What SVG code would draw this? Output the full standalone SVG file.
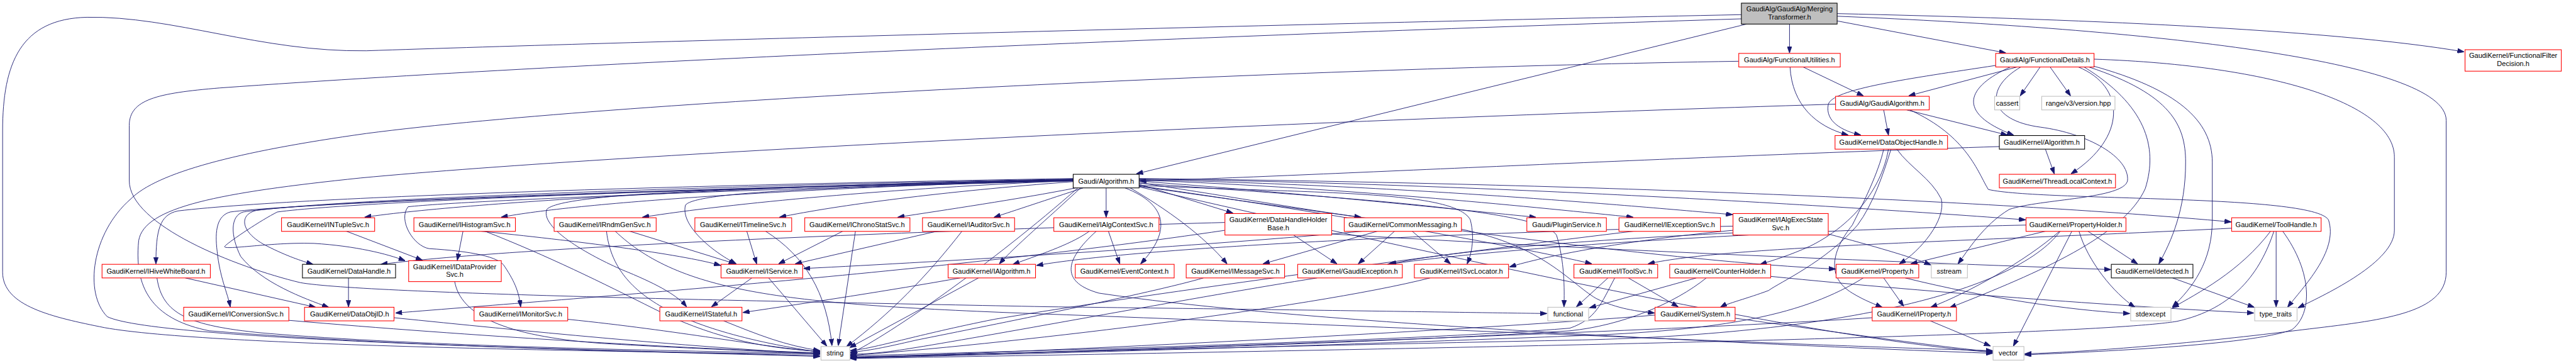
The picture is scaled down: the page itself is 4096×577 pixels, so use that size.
<svg xmlns="http://www.w3.org/2000/svg" width="4096" height="577" viewBox="0 0 4096 577">
<style>
.e path{fill:none;stroke:#191970;stroke-width:1.1;marker-end:url(#a)}
.n rect{fill:#fff;stroke:#ff0000;stroke-width:1.3}
.k rect{fill:#fff;stroke:#000;stroke-width:1.3}
.g rect{fill:#fff;stroke:#bfbfbf;stroke-width:1.3}
.m rect{fill:#bfbfbf;stroke:#000;stroke-width:1.3}
text{font-family:"Liberation Sans",Arial,Helvetica,sans-serif;font-size:13.33px;text-anchor:middle;fill:#000}
</style>
<defs>
<marker id="a" viewBox="0 0 13 9" refX="12.5" refY="4.5" markerWidth="13" markerHeight="9" markerUnits="userSpaceOnUse" orient="auto"><path d="M0,0 L13,4.5 L0,9 z" fill="#191970" stroke="#191970" stroke-width="1"/></marker>
</defs>
<rect x="0" y="0" width="4096" height="577" fill="#fff"/>
<g transform="scale(0.832)">
<g id="connectors" class="e">
<path d="M3420,46 L3420,101"/>
<path d="M3511,40 L3833,101"/>
<path d="M3511,26 C3950,36 4450,55 4709,99"/>
<path d="M3511,31 C4100,55 4675,115 4675,230 L4675,520 C4675,600 4550,612 4400,630 C4200,655 4000,672 3870,676"/>
<path d="M3338,46 L2172,332"/>
<path d="M3328,28 C2500,45 1200,80 700,97 C500,100 330,30 166,33 C40,36 5,120 5,250 L5,520 C5,585 100,606 200,626 C400,662 1200,672 1567,677"/>
<path d="M3328,36 C2500,62 1200,112 420,168 C300,178 247,190 247,240 L247,345 C247,430 450,510 574,540 C700,562 1500,576 2000,586 C2500,592 2800,597 2956,599"/>
<path d="M3446,128 L3561,183"/>
<path d="M3421,128 C3425,200 3470,242 3532,258"/>
<path d="M3323,117 C2500,130 1200,190 700,255 C450,290 300,330 250,380 C175,445 160,560 205,605 C300,652 1200,670 1567,680"/>
<path d="M3855,128 L3648,183"/>
<path d="M3814,125 C3650,150 3500,170 3494,200 C3488,232 3520,250 3556,258"/>
<path d="M3842,128 C3760,165 3735,215 3848,258"/>
<path d="M3899,128 L3861,183"/>
<path d="M3918,128 L3957,183"/>
<path d="M3972,128 C4062,165 4066,262 3958,332"/>
<path d="M3992,128 C4150,180 4177,240 4177,310 C4177,400 4150,460 4126,504"/>
<path d="M4000,126 C4160,170 4228,230 4228,310 L4228,420 C4228,500 4190,550 4152,586"/>
<path d="M4002,113 C4350,125 4576,200 4576,300 L4576,440 C4576,500 4450,560 4392,588"/>
<path d="M3983,128 C4100,200 4125,280 4100,360 C4060,450 3900,520 3726,588"/>
<path d="M3862,128 C3790,170 3800,230 3900,243 C3990,255 4070,300 4066,345 C4060,380 3900,380 3840,400 C3790,430 3760,480 3742,504"/>
<path d="M3600,210 L3609,258"/>
<path d="M3644,210 L3836,258"/>
<path d="M3508,199 C2500,230 1200,292 689,340 C420,368 275,395 265,460 C255,560 300,612 400,632 C800,665 1300,673 1567,681"/>
<path d="M3650,210 C3760,260 3780,330 3800,362 C3900,385 4420,370 4450,420 C4470,480 4400,550 4372,587"/>
<path d="M3821,280 C3200,300 2500,336 2178,346"/>
<path d="M3909,285 L3926,332"/>
<path d="M3609,285 C3600,340 3560,420 3460,470 C3420,488 3390,497 3364,505"/>
<path d="M3600,285 C3590,330 3560,390 3540,430 C3500,480 3490,530 3540,560 C3565,575 3585,582 3597,587"/>
<path d="M3614,285 C3600,330 3580,390 3550,430 C3490,500 3400,540 3380,555 C3340,570 3300,580 3288,587"/>
<path d="M3625,285 C3650,320 3690,340 3710,380 C3720,420 3670,480 3630,504"/>
<path d="M3912,441 L3652,504"/>
<path d="M3937,441 C3870,500 3760,560 3690,587"/>
<path d="M3960,441 L3848,661"/>
<path d="M3973,441 C3990,500 4040,560 4080,587"/>
<path d="M3989,441 L4085,504"/>
<path d="M3872,430 C3400,440 2900,470 2652,505"/>
<path d="M3938,441 C3850,560 3500,640 3000,650 C2500,660 1900,675 1625,683"/>
<path d="M4340,441 C4280,520 4200,560 4152,588"/>
<path d="M4350,441 L4350,586"/>
<path d="M4346,441 C4320,520 4270,590 4160,614 C4000,640 3000,662 1625,685"/>
<path d="M4362,441 C4420,520 4420,600 4380,630 C4300,660 4000,672 3870,678"/>
<path d="M4265,436 C3800,460 3300,470 3150,504"/>
<path d="M3112,531 L3207,586"/>
<path d="M3073,531 L3013,586"/>
<path d="M3086,531 C3060,580 3050,610 3000,627 C2700,652 1900,672 1625,680"/>
<path d="M3242,531 L3038,588"/>
<path d="M3261,531 C3200,580 3100,622 3000,632 C2600,658 1900,676 1625,682"/>
<path d="M3384,528 C3700,560 4100,588 4307,598"/>
<path d="M3600,531 L3638,585"/>
<path d="M3561,531 C3450,600 3300,632 3000,642 C2500,662 1900,678 1625,684"/>
<path d="M3641,531 C3800,570 3950,592 4070,599"/>
<path d="M4152,531 L4308,587"/>
<path d="M3163,602 C2800,632 2000,672 1625,683"/>
<path d="M3316,608 C3550,640 3700,662 3808,672"/>
<path d="M3689,613 L3804,661"/>
<path d="M3578,607 C3200,632 2200,667 1625,684"/>
<path d="M3312,445 C3000,460 2750,482 2656,505"/>
<path d="M3494,447 C3580,470 3650,490 3690,506"/>
<path d="M3312,432 C2800,445 2200,470 1981,507"/>
<path d="M3312,440 C3100,460 2950,490 2885,510"/>
<path d="M3128,441 C2800,480 2200,560 1900,610 C1750,640 1670,666 1625,670"/>
<path d="M2635,441 L2414,504"/>
<path d="M2666,441 L2596,504"/>
<path d="M2698,441 L2772,504"/>
<path d="M2612,441 C2300,470 1800,500 1536,513"/>
<path d="M2793,438 C2950,470 3000,540 3050,570 C3090,590 3130,595 3162,598"/>
<path d="M2118,441 L2140,504"/>
<path d="M2083,441 C2050,465 2000,482 1936,505"/>
<path d="M2096,441 C2030,500 2030,540 2100,560 C2500,620 3400,660 3808,675"/>
<path d="M2472,449 L2555,504"/>
<path d="M2341,425 C1800,440 1000,470 728,505"/>
<path d="M2341,440 C1800,520 1100,570 756,598"/>
<path d="M2545,447 C3000,475 3600,500 4034,515"/>
<path d="M2300,531 C2200,560 1900,620 1750,650 C1690,664 1660,670 1625,673"/>
<path d="M2517,531 C2300,565 1900,640 1750,664 C1690,674 1660,676 1625,677"/>
<path d="M2733,531 C2500,590 1900,660 1625,679"/>
<path d="M1437,531 L1360,586"/>
<path d="M1469,531 L1580,661"/>
<path d="M1835,531 C1700,555 1550,578 1420,597"/>
<path d="M1870,531 L1624,664"/>
<path d="M1612,441 L1488,504"/>
<path d="M1635,441 L1602,660"/>
<path d="M1794,441 L1520,504"/>
<path d="M1839,441 C1770,530 1700,600 1618,662"/>
<path d="M1427,441 L1446,504"/>
<path d="M1462,441 C1540,490 1580,560 1590,660"/>
<path d="M1201,441 L1405,504"/>
<path d="M1159,441 C1170,540 1250,625 1567,673"/>
<path d="M1175,441 C1300,560 1500,582 2000,600 C2800,630 3500,662 3808,670"/>
<path d="M885,441 L874,497"/>
<path d="M912,441 C1100,460 1300,485 1377,507"/>
<path d="M925,441 C1050,490 1150,540 1250,590 C1350,640 1450,666 1567,671"/>
<path d="M660,441 L807,497"/>
<path d="M354,531 L603,587"/>
<path d="M300,531 C310,600 360,622 500,636 C800,662 1300,671 1567,675"/>
<path d="M666,531 L666,586"/>
<path d="M869,538 C880,600 960,642 1150,656 C1350,668 1500,672 1567,676"/>
<path d="M552,612 C900,642 1300,666 1567,674"/>
<path d="M753,607 C1000,632 1300,662 1567,676"/>
<path d="M1085,610 C1300,632 1450,662 1567,672"/>
<path d="M1383,613 C1450,640 1500,660 1567,670"/>
<path d="M2051,343 C1500,352 900,385 697,415"/>
<path d="M2051,344 C1500,360 1100,388 958,415"/>
<path d="M2051,345 C1700,360 1400,388 1228,415"/>
<path d="M2051,347 C1800,366 1600,392 1490,415"/>
<path d="M2056,359 C1950,380 1800,402 1716,415"/>
<path d="M2070,359 C2000,382 1940,402 1900,415"/>
<path d="M2114,359 L2114,415"/>
<path d="M2177,352 L2356,407"/>
<path d="M2177,349 C2350,375 2500,402 2601,415"/>
<path d="M2177,346 C2500,370 2800,402 2935,415"/>
<path d="M2177,344 C2600,360 2950,398 3121,415"/>
<path d="M2177,343 C2700,355 3100,392 3311,410"/>
<path d="M2177,342 C2800,350 3500,392 3871,420"/>
<path d="M2177,341 C3000,350 3800,382 4264,424"/>
<path d="M2051,341 C1500,350 600,372 340,403 C305,410 298,440 298,504"/>
<path d="M2051,342 C1500,352 700,376 490,402 C455,410 460,445 510,470 C550,490 575,498 598,505"/>
<path d="M2051,343 C1500,356 700,382 530,405 C500,420 440,460 430,470 C420,480 520,462 600,465 C680,470 740,485 774,498"/>
<path d="M2051,343 C1500,356 600,382 465,405 C440,412 440,450 460,490 C500,540 580,570 628,587"/>
<path d="M2051,344 C1500,357 600,384 440,405 C415,412 410,440 415,480 C420,530 435,560 440,586"/>
<path d="M2051,344 C1500,360 900,382 780,395 C760,420 790,470 820,475 C900,480 955,490 965,510 C985,540 992,560 995,586"/>
<path d="M2051,345 C1700,356 1330,362 1310,392 C1300,430 1360,480 1407,504"/>
<path d="M2051,346 C1600,356 1080,362 1045,400 C1030,440 1150,500 1200,520 C1260,545 1295,565 1312,586"/>
<path d="M2065,359 C2000,420 1940,470 1910,504"/>
<path d="M2150,359 C2230,390 2240,440 2180,504"/>
<path d="M2160,359 C2230,400 2300,450 2345,504"/>
<path d="M2177,354 C2500,370 2780,362 2810,420 C2820,460 2810,490 2804,504"/>
<path d="M2177,355 C2500,400 2900,470 3042,504"/>
<path d="M2177,356 C2700,430 3200,500 3508,514"/>
<path d="M2060,359 C1900,500 1700,640 1626,675"/>
<path d="M2177,357 C2800,500 3500,652 3808,673"/>
<path d="M2177,350 C2600,380 2950,402 2975,450 C2990,500 2990,550 2989,586"/>
</g>
<g id="n_merging" class="m"><rect x="3328" y="6" width="183" height="40"/><text x="3420" y="22">GaudiAlg/GaudiAlg/Merging</text><text x="3420" y="37">Transformer.h</text></g>
<g id="n_funcutil" class="n"><rect x="3323" y="102" width="194" height="26"/><text x="3420" y="119.5">GaudiAlg/FunctionalUtilities.h</text></g>
<g id="n_funcdet" class="n"><rect x="3814" y="102" width="188" height="26"/><text x="3908" y="119.5">GaudiAlg/FunctionalDetails.h</text></g>
<g id="n_filterdec" class="n"><rect x="4711" y="95" width="184" height="41"/><text x="4803" y="111">GaudiKernel/FunctionalFilter</text><text x="4803" y="126">Decision.h</text></g>
<g id="n_gaudialgorithm" class="n"><rect x="3508" y="184" width="179" height="26"/><text x="3597" y="201.5">GaudiAlg/GaudiAlgorithm.h</text></g>
<g id="n_cassert" class="g"><rect x="3812" y="184" width="48" height="26"/><text x="3836" y="201.5">cassert</text></g>
<g id="n_range" class="g"><rect x="3902" y="184" width="140" height="26"/><text x="3972" y="201.5">range/v3/version.hpp</text></g>
<g id="n_dataobjecthandle" class="n"><rect x="3507" y="259" width="215" height="26"/><text x="3614" y="276.5">GaudiKernel/DataObjectHandle.h</text></g>
<g id="n_kalgorithm" class="k"><rect x="3821" y="259" width="163" height="26"/><text x="3902" y="276.5">GaudiKernel/Algorithm.h</text></g>
<g id="n_threadlocal" class="n"><rect x="3821" y="333" width="222" height="26"/><text x="3932" y="350.5">GaudiKernel/ThreadLocalContext.h</text></g>
<g id="n_galgorithm" class="k"><rect x="2051" y="333" width="126" height="26"/><text x="2114" y="350.5">Gaudi/Algorithm.h</text></g>
<g id="n_intuple" class="n"><rect x="538" y="416" width="178" height="26"/><text x="627" y="433.5">GaudiKernel/INTupleSvc.h</text></g>
<g id="n_ihisto" class="n"><rect x="791" y="416" width="194" height="26"/><text x="888" y="433.5">GaudiKernel/IHistogramSvc.h</text></g>
<g id="n_irndm" class="n"><rect x="1059" y="416" width="195" height="26"/><text x="1156" y="433.5">GaudiKernel/IRndmGenSvc.h</text></g>
<g id="n_itimeline" class="n"><rect x="1328" y="416" width="185" height="26"/><text x="1420" y="433.5">GaudiKernel/ITimelineSvc.h</text></g>
<g id="n_ichrono" class="n"><rect x="1538" y="416" width="201" height="26"/><text x="1638" y="433.5">GaudiKernel/IChronoStatSvc.h</text></g>
<g id="n_iauditor" class="n"><rect x="1763" y="416" width="176" height="26"/><text x="1851" y="433.5">GaudiKernel/IAuditorSvc.h</text></g>
<g id="n_ialgctx" class="n"><rect x="2014" y="416" width="201" height="26"/><text x="2114" y="433.5">GaudiKernel/IAlgContextSvc.h</text></g>
<g id="n_dhhb" class="n"><rect x="2341" y="408" width="204" height="41"/><text x="2443" y="424.5">GaudiKernel/DataHandleHolder</text><text x="2443" y="439.5">Base.h</text></g>
<g id="n_commonmsg" class="n"><rect x="2569" y="416" width="224" height="26"/><text x="2681" y="433.5">GaudiKernel/CommonMessaging.h</text></g>
<g id="n_plugin" class="n"><rect x="2918" y="416" width="152" height="26"/><text x="2994" y="433.5">Gaudi/PluginService.h</text></g>
<g id="n_iexc" class="n"><rect x="3094" y="416" width="194" height="26"/><text x="3191" y="433.5">GaudiKernel/IExceptionSvc.h</text></g>
<g id="n_iaes" class="n"><rect x="3312" y="408" width="182" height="41"/><text x="3403" y="424.5">GaudiKernel/IAlgExecState</text><text x="3403" y="439.5">Svc.h</text></g>
<g id="n_propholder" class="n"><rect x="3872" y="416" width="191" height="26"/><text x="3967" y="433.5">GaudiKernel/PropertyHolder.h</text></g>
<g id="n_toolhandle" class="n"><rect x="4265" y="416" width="171" height="26"/><text x="4350" y="433.5">GaudiKernel/ToolHandle.h</text></g>
<g id="n_ihwb" class="n"><rect x="195" y="505" width="207" height="26"/><text x="298" y="522.5">GaudiKernel/IHiveWhiteBoard.h</text></g>
<g id="n_datahandle" class="k"><rect x="578" y="505" width="178" height="26"/><text x="667" y="522.5">GaudiKernel/DataHandle.h</text></g>
<g id="n_idps" class="n"><rect x="781" y="498" width="177" height="40"/><text x="869" y="514">GaudiKernel/IDataProvider</text><text x="869" y="529">Svc.h</text></g>
<g id="n_iservice" class="n"><rect x="1378" y="505" width="156" height="26"/><text x="1456" y="522.5">GaudiKernel/IService.h</text></g>
<g id="n_ialgorithm" class="n"><rect x="1812" y="505" width="167" height="26"/><text x="1895" y="522.5">GaudiKernel/IAlgorithm.h</text></g>
<g id="n_eventctx" class="n"><rect x="2055" y="505" width="189" height="26"/><text x="2149" y="522.5">GaudiKernel/EventContext.h</text></g>
<g id="n_imsg" class="n"><rect x="2267" y="505" width="188" height="26"/><text x="2361" y="522.5">GaudiKernel/IMessageSvc.h</text></g>
<g id="n_gexc" class="n"><rect x="2480" y="505" width="200" height="26"/><text x="2580" y="522.5">GaudiKernel/GaudiException.h</text></g>
<g id="n_isvcloc" class="n"><rect x="2703" y="505" width="180" height="26"/><text x="2793" y="522.5">GaudiKernel/ISvcLocator.h</text></g>
<g id="n_itoolsvc" class="n"><rect x="3008" y="505" width="160" height="26"/><text x="3088" y="522.5">GaudiKernel/IToolSvc.h</text></g>
<g id="n_counter" class="n"><rect x="3191" y="505" width="193" height="26"/><text x="3287" y="522.5">GaudiKernel/CounterHolder.h</text></g>
<g id="n_property" class="n"><rect x="3509" y="505" width="158" height="26"/><text x="3588" y="522.5">GaudiKernel/Property.h</text></g>
<g id="n_sstream" class="g"><rect x="3691" y="505" width="69" height="26"/><text x="3725" y="522.5">sstream</text></g>
<g id="n_detected" class="k"><rect x="4035" y="505" width="156" height="26"/><text x="4113" y="522.5">GaudiKernel/detected.h</text></g>
<g id="n_iconv" class="n"><rect x="351" y="587" width="201" height="26"/><text x="451" y="604.5">GaudiKernel/IConversionSvc.h</text></g>
<g id="n_dataobjid" class="n"><rect x="582" y="587" width="171" height="26"/><text x="668" y="604.5">GaudiKernel/DataObjID.h</text></g>
<g id="n_imonitor" class="n"><rect x="906" y="587" width="179" height="26"/><text x="995" y="604.5">GaudiKernel/IMonitorSvc.h</text></g>
<g id="n_istateful" class="n"><rect x="1261" y="587" width="157" height="26"/><text x="1340" y="604.5">GaudiKernel/IStateful.h</text></g>
<g id="n_functional" class="g"><rect x="2958" y="587" width="78" height="26"/><text x="2997" y="604.5">functional</text></g>
<g id="n_system" class="n"><rect x="3163" y="587" width="153" height="26"/><text x="3240" y="604.5">GaudiKernel/System.h</text></g>
<g id="n_iproperty" class="n"><rect x="3578" y="587" width="161" height="26"/><text x="3658" y="604.5">GaudiKernel/IProperty.h</text></g>
<g id="n_stdexcept" class="g"><rect x="4072" y="587" width="77" height="26"/><text x="4110" y="604.5">stdexcept</text></g>
<g id="n_typetraits" class="g"><rect x="4309" y="587" width="81" height="26"/><text x="4349" y="604.5">type_traits</text></g>
<g id="n_string" class="g"><rect x="1569" y="662" width="55" height="26"/><text x="1596" y="679.5">string</text></g>
<g id="n_vector" class="g"><rect x="3809" y="662" width="59" height="26"/><text x="3838" y="679.5">vector</text></g>
</g>
</svg>
